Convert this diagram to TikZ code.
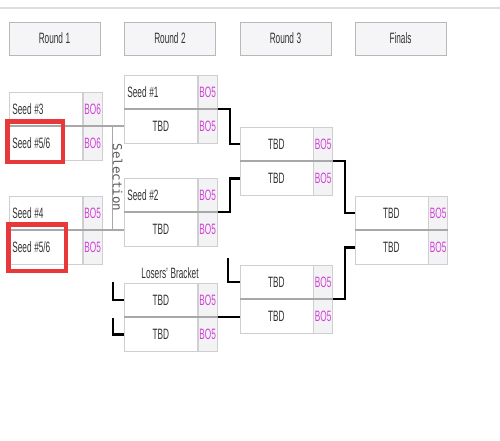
\documentclass[tikz,border=0pt]{standalone}
\usepackage{fontspec}
\setmainfont{Liberation Sans}[FakeStretch=0.55]
\newfontfamily\selfont{DejaVu Sans Mono}
\usetikzlibrary{calc}
\definecolor{boxline}{HTML}{CFCFCF}
\definecolor{bofill}{HTML}{F3F3F5}
\definecolor{divgrey}{HTML}{A8A8A8}
\definecolor{bomag}{HTML}{D23FD8}
\definecolor{txt}{HTML}{333333}
\definecolor{hdrfill}{HTML}{F5F5F7}
\definecolor{hdrline}{HTML}{B8B8B8}
\definecolor{redframe}{HTML}{E8383A}
\definecolor{topgrey}{HTML}{DDDDDD}
\newcommand\bkfont{\fontsize{15}{16}\selectfont}
\newcommand\sk{\kern2.6pt}
\tikzset{
  namecell/.style={draw=boxline, fill=white, line width=0.8pt, minimum height=33.5pt,
    text width=67pt, inner xsep=3pt, inner ysep=0pt, anchor=north west,
    font=\bkfont, text=txt},
  bocell/.style={draw=boxline, fill=bofill, line width=0.8pt, minimum height=33.5pt,
    minimum width=19pt, inner sep=0pt, anchor=north west,
    font=\bkfont, text=bomag},
  divider/.style={draw=divgrey, line width=2pt},
  win/.style={draw=black, line width=2.2pt},
  gline/.style={draw=divgrey, line width=2pt},
  selline/.style={draw=divgrey, line width=1.2pt},
  seltext/.style={rotate=-90, font=\selfont\fontsize{12.5}{13}\selectfont, text=txt!80, inner sep=0pt},
  hdr/.style={draw=hdrline, fill=hdrfill, line width=0.9pt, minimum width=91pt, minimum height=33pt,
    inner sep=0pt, font=\bkfont, text=txt},
  lbltext/.style={font=\bkfont, text=txt, inner sep=0pt},
  redbox/.style={draw=redframe, line width=4.5pt},
  topline/.style={draw=topgrey, line width=1.5pt}
}
\newcommand\bmatch[8]{%
  \node[namecell, align=#5] (#1-tn) at (#2,#3) {#4};
  \node[bocell] (#1-tb) at (#1-tn.north east) {#8};
  \node[namecell, align=#7] (#1-bn) at (#1-tn.south west) {#6};
  \node[bocell] (#1-bb) at (#1-bn.north east) {#8};
  \draw[divider] (#1-tn.south west) -- (#1-tb.south east);
}
\begin{document}
\begin{tikzpicture}[x=1pt, y=-1pt]
\fill[white] (0,0) rectangle (500,440);
\useasboundingbox (0,0) rectangle (500,440);
\draw[topline] (0,8) -- (500,8);

% headers
\node[hdr] (h1) at (54.5,38.5) {Round\sk 1};
\node[hdr] (h2) at (170,38.5) {Round\sk 2};
\node[hdr] (h3) at (285.5,38.5) {Round\sk 3};
\node[hdr] (h4) at (400.5,38.5) {Finals};

% connector anchors
\coordinate (sel) at (112.5,0);
\coordinate (f3) at (228,258);
\coordinate (fl1) at (113,282);
\coordinate (fl2) at (113,318);

% matches
\bmatch{r1a}{9}{92}{Seed\sk\#3}{left}{Seed\sk\#5/6}{left}{BO6}
\bmatch{r1b}{9}{196}{Seed\sk\#4}{left}{Seed\sk\#5/6}{left}{BO5}
\bmatch{r2a}{124}{75}{Seed\sk\#1}{left}{TBD}{center}{BO5}
\bmatch{r2b}{124}{178}{Seed\sk\#2}{left}{TBD}{center}{BO5}
\bmatch{lb}{124}{283}{TBD}{center}{TBD}{center}{BO5}
\bmatch{r3a}{239.5}{127}{TBD}{center}{TBD}{center}{BO5}
\bmatch{r3b}{239.5}{265}{TBD}{center}{TBD}{center}{BO5}
\bmatch{fin}{354.5}{196}{TBD}{center}{TBD}{center}{BO5}

% grey connectors from round 1 and selection
\draw[gline] (r1a-tb.south east) -- (r1a-tb.south east -| r2a-bn.west);
\draw[gline] (r1b-tb.south east) -- (r1b-tb.south east -| r2b-bn.west);
\draw[selline] (r1a-tb.south east -| sel) -- (r1b-tb.south east -| sel);
\node[seltext] (selt) at (117.5,177.5) {Selection};

% winner connectors
\draw[win] (r2a-tb.south east) -- ++(12,0) |- (r3a-tn.west);
\draw[win] (r2b-tb.south east) -- ++(12,0) |- (r3a-bn.west);
\draw[win] (r3a-tb.south east) -- ++(12,0) |- (fin-tn.west);
\draw[win] (r3b-tb.south east) -- ++(12,0) |- (fin-bn.west);
\draw[win] (lb-tb.south east) -- (lb-tb.south east -| r3b-bn.west);
\draw[win] (f3) |- (r3b-tn.west);
\draw[win] (fl1) |- (lb-tn.west);
\draw[win] (fl2) |- (lb-bn.west);

\node[lbltext] (lbl) at (170,273) {Losers'\sk Bracket};

% red highlight frames
\draw[redbox] (7.25,121.25) rectangle (62.75,161.75);
\draw[redbox] (8.25,224.25) rectangle (65.75,270.75);
\end{tikzpicture}
\end{document}
